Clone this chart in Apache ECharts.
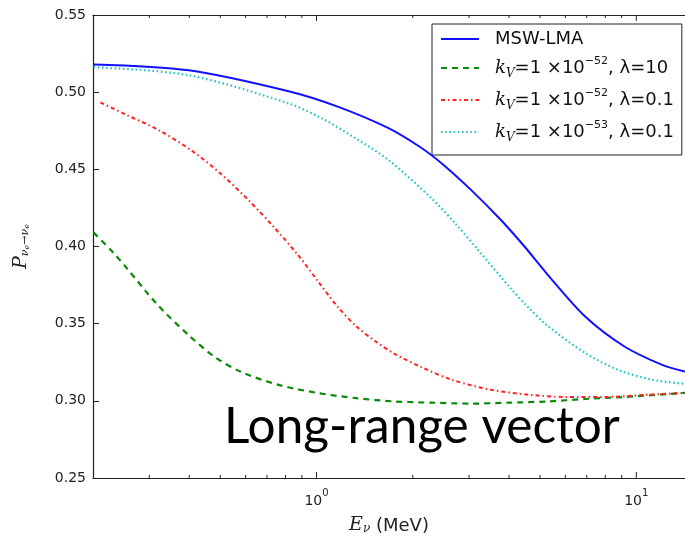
<!DOCTYPE html>
<html>
<head>
<meta charset="utf-8">
<script src="https://cdn.jsdelivr.net/npm/echarts@6/dist/echarts.min.js"></script>
<style>
html,body{margin:0;padding:0;background:#fff;}
#chart{width:685px;height:542px;}
</style>
</head>
<body>
<div id="chart"></div>
<script>
// ---- data ----
const energyMSW = [0.201, 0.398, 0.818, 1.17, 1.679, 2.113, 2.475, 3.03, 3.76, 4.47, 5.27, 6.92, 9.18, 12.05, 14.2];
const probMSW   = [0.518, 0.5142, 0.5006, 0.4905, 0.4767, 0.4643, 0.4535, 0.437, 0.4175, 0.400, 0.382, 0.3546, 0.3352, 0.3233, 0.319];

const energyK52L10 = [0.201, 0.232, 0.255, 0.319, 0.397, 0.480, 0.583, 0.766, 1.014, 1.334, 1.753, 2.305, 3.05, 4.01, 5.27, 6.92, 9.18, 14.2];
const probK52L10   = [0.409, 0.3958, 0.386, 0.362, 0.3428, 0.3285, 0.3186, 0.3102, 0.305, 0.3017, 0.2996, 0.2988, 0.2982, 0.2988, 0.2996, 0.3012, 0.3025, 0.3052];

const energyK52L01 = [0.211, 0.252, 0.321, 0.408, 0.500, 0.609, 0.734, 0.875, 1.012, 1.163, 1.334, 1.528, 1.753, 2.13, 2.653, 3.50, 4.60, 6.04, 8.0, 10.5, 14.2];
const probK52L01   = [0.4933, 0.4857, 0.4754, 0.462, 0.4474, 0.4306, 0.4128, 0.3945, 0.3773, 0.3611, 0.3481, 0.3386, 0.3305, 0.3218, 0.3136, 0.3072, 0.304, 0.3025, 0.3025, 0.3038, 0.3052];

const energyK53L01 = [0.201, 0.398, 0.818, 1.04, 1.32, 1.679, 2.305, 2.72, 3.21, 4.01, 4.60, 5.27, 6.92, 8.79, 11.2, 14.2];
const probK53L01   = [0.5162, 0.511, 0.4927, 0.483, 0.4703, 0.456, 0.4306, 0.4148, 0.3975, 0.3738, 0.3604, 0.3488, 0.331, 0.320, 0.3137, 0.311];

const seriesNames = ['MSW-LMA', 'kV=1e-52, λ=10', 'kV=1e-52, λ=0.1', 'kV=1e-53, λ=0.1'];
const legendLabels = {
  'MSW-LMA': '{n|MSW-LMA}',
  'kV=1e-52, λ=10': '{i|k}{sub|V}{n|=1 ×10}{sup|−52}{n|, λ=10}',
  'kV=1e-52, λ=0.1': '{i|k}{sub|V}{n|=1 ×10}{sup|−52}{n|, λ=0.1}',
  'kV=1e-53, λ=0.1': '{i|k}{sub|V}{n|=1 ×10}{sup|−53}{n|, λ=0.1}'
};
const xMin = 0.2, xMax = 14.2;
const yMin = 0.25, yMax = 0.55, yStep = 0.05;
const xMajorTicks = [1, 10];
const xMinorTicks = [0.3, 0.4, 0.5, 0.6, 0.7, 0.8, 0.9, 2, 3, 4, 5, 6, 7, 8, 9];
const annotation = 'Long-range vector';

function zip(xs, ys) { return xs.map((x, i) => [x, ys[i]]); }

const chart = echarts.init(document.getElementById('chart'), null, {renderer: 'canvas'});
const axisColor = '#222';
const font = 'DejaVu Sans';

const tickData = xMajorTicks.map(v => [v, 1]).concat(xMinorTicks.map(v => [v, 0]));

const option = {
  animation: false,
  backgroundColor: '#fff',
  grid: {left: 93, top: 15, right: 0, bottom: 64, containLabel: false},
  xAxis: [{
    type: 'log', logBase: 10, min: xMin, max: xMax,
    axisLine: {show: true, onZero: false, lineStyle: {color: axisColor, width: 1.2}},
    axisTick: {show: false},
    minorTick: {show: false},
    splitLine: {show: false},
    axisLabel: {
      show: true, margin: 10, showMinLabel: false, showMaxLabel: false,
      formatter: function (v) {
        const e = Math.log10(v);
        if (Math.abs(e - Math.round(e)) < 1e-6) return '{b|10}{s|' + Math.round(e) + '}';
        return '';
      },
      rich: {
        b: {fontFamily: font, fontSize: 14, color: axisColor, verticalAlign: 'bottom', lineHeight: 20},
        s: {fontFamily: font, fontSize: 10, color: axisColor, verticalAlign: 'top', lineHeight: 20}
      }
    },
    name: '{i|E}{sub|ν}{n| (MeV)}',
    nameLocation: 'middle', nameGap: 33,
    nameTextStyle: {
      rich: {
        i: {fontFamily: 'DejaVu Serif', fontStyle: 'italic', fontSize: 19, color: axisColor, verticalAlign: 'bottom', lineHeight: 24},
        sub: {fontFamily: 'DejaVu Serif', fontStyle: 'italic', fontSize: 12, color: axisColor, verticalAlign: 'bottom', lineHeight: 19},
        n: {fontFamily: font, fontSize: 18, color: axisColor, verticalAlign: 'bottom', lineHeight: 24}
      }
    }
  }, {
    type: 'log', logBase: 10, min: xMin, max: xMax, position: 'top',
    axisLine: {show: true, onZero: false, lineStyle: {color: axisColor, width: 1.2}},
    axisTick: {show: false}, axisLabel: {show: false}, splitLine: {show: false}
  }],
  yAxis: {
    type: 'value', min: yMin, max: yMax, interval: yStep,
    axisLine: {show: true, onZero: false, lineStyle: {color: axisColor, width: 1.2}},
    axisTick: {show: true, inside: true, length: 6, lineStyle: {color: axisColor, width: 1}},
    splitLine: {show: false},
    axisLabel: {margin: 7, fontFamily: font, fontSize: 14, color: axisColor, formatter: v => v.toFixed(2)},
    name: '{p|P}{s|ν}{e|e}{s|→ν}{e|e}',
    nameLocation: 'middle', nameRotate: 90, nameGap: 62,
    nameTextStyle: {
      rich: {
        p: {fontFamily: 'DejaVu Serif', fontStyle: 'italic', fontSize: 19, color: axisColor, verticalAlign: 'bottom', lineHeight: 23},
        s: {fontFamily: 'DejaVu Serif', fontStyle: 'italic', fontSize: 11, color: axisColor, verticalAlign: 'bottom', lineHeight: 18},
        e: {fontFamily: 'DejaVu Serif', fontStyle: 'italic', fontSize: 8, color: axisColor, verticalAlign: 'bottom', lineHeight: 15}
      }
    }
  },
  legend: {
    orient: 'vertical', left: 432, top: 24,
    padding: [6, 8, 11, 8],
    itemWidth: 38, itemHeight: 14, itemGap: 8,
    borderColor: axisColor, borderWidth: 1, borderRadius: 0,
    backgroundColor: '#fff',
    itemStyle: {opacity: 0},
    data: seriesNames,
    formatter: name => legendLabels[name],
    textStyle: {
      padding: [0, 0, 0, 11],
      rich: {
        n: {fontFamily: font, fontSize: 18, color: '#111', lineHeight: 24, verticalAlign: 'middle'},
        i: {fontFamily: 'DejaVu Serif', fontStyle: 'italic', fontSize: 18, color: '#111', lineHeight: 24},
        sub: {fontFamily: 'DejaVu Serif', fontStyle: 'italic', fontSize: 12, color: '#111', lineHeight: 24, verticalAlign: 'bottom'},
        sup: {fontFamily: font, fontSize: 11, color: '#111', lineHeight: 24, verticalAlign: 'top'}
      }
    }
  },
  graphic: [{
    type: 'text', left: 224, top: 402, z: 100,
    style: {text: annotation, font: '49.5px Lato', fill: '#000'}
  }],
  series: [
    {name: seriesNames[0], type: 'line', data: zip(energyMSW, probMSW), symbol: 'none', smooth: 0.3,
     lineStyle: {color: '#1010ff', width: 2, type: 'solid'}, itemStyle: {color: '#1010ff'}, z: 5},
    {name: seriesNames[1], type: 'line', data: zip(energyK52L10, probK52L10), symbol: 'none', smooth: 0.3,
     lineStyle: {color: '#0a8a0a', width: 2.2, type: [6, 5]}, itemStyle: {color: '#0a8a0a'}, z: 3},
    {name: seriesNames[2], type: 'line', data: zip(energyK52L01, probK52L01), symbol: 'none', smooth: 0.3,
     lineStyle: {color: '#ff2020', width: 2, type: [4, 3, 1.5, 3]}, itemStyle: {color: '#ff2020'}, z: 4},
    {name: seriesNames[3], type: 'line', data: zip(energyK53L01, probK53L01), symbol: 'none', smooth: 0.3,
     lineStyle: {color: '#25c4c4', width: 2.2, type: [1.6, 2.6]}, itemStyle: {color: '#25c4c4'}, z: 4},
    {
      type: 'custom', data: tickData, silent: true, clip: false, z: 10,
      renderItem: function (params, api) {
        const v = api.value(0), major = api.value(1) === 1;
        const len = major ? 6 : 3;
        const pb = api.coord([v, yMin]);
        const pt = api.coord([v, yMax]);
        return {type: 'group', children: [
          {type: 'line', shape: {x1: pb[0], y1: pb[1], x2: pb[0], y2: pb[1] - len}, style: {stroke: axisColor, lineWidth: 1}},
          {type: 'line', shape: {x1: pt[0], y1: pt[1], x2: pt[0], y2: pt[1] + len}, style: {stroke: axisColor, lineWidth: 1}}
        ]};
      }
    }
  ]
};
chart.setOption(option);
</script>
</body>
</html>
